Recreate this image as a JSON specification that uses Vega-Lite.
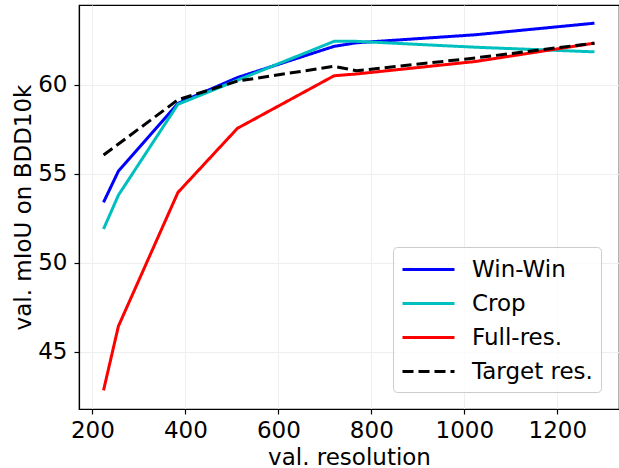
{
  "$schema": "https://vega.github.io/schema/vega-lite/v6.json",
  "autosize": {"type": "none"},
  "padding": {"left": 79, "top": 5, "right": 0, "bottom": 59},
  "width": 540,
  "height": 404,
  "background": "white",
  "config": {
    "font": "DejaVu Sans",
    "view": {"stroke": "#000000", "strokeWidth": 1.2},
    "axis": {
      "domainColor": "#000000",
      "domainWidth": 1.2,
      "tickColor": "#000000",
      "tickSize": 5,
      "tickWidth": 1.2,
      "labelColor": "#000000",
      "titleColor": "#000000",
      "labelFontSize": 23,
      "titleFontSize": 23,
      "titleFontWeight": "normal",
      "labelFont": "DejaVu Sans",
      "titleFont": "DejaVu Sans",
      "gridColor": "#eeeeee",
      "gridWidth": 1
    }
  },
  "data": {
    "values": [
      {"res": 224, "miou": 53.4, "series": "Win-Win"},
      {"res": 256, "miou": 55.15, "series": "Win-Win"},
      {"res": 384, "miou": 58.95, "series": "Win-Win"},
      {"res": 512, "miou": 60.4, "series": "Win-Win"},
      {"res": 720, "miou": 62.15, "series": "Win-Win"},
      {"res": 768, "miou": 62.35, "series": "Win-Win"},
      {"res": 1024, "miou": 62.8, "series": "Win-Win"},
      {"res": 1280, "miou": 63.45, "series": "Win-Win"},
      {"res": 224, "miou": 51.9, "series": "Crop"},
      {"res": 256, "miou": 53.8, "series": "Crop"},
      {"res": 384, "miou": 58.9, "series": "Crop"},
      {"res": 512, "miou": 60.25, "series": "Crop"},
      {"res": 720, "miou": 62.43, "series": "Crop"},
      {"res": 768, "miou": 62.43, "series": "Crop"},
      {"res": 1024, "miou": 62.1, "series": "Crop"},
      {"res": 1280, "miou": 61.84, "series": "Crop"},
      {"res": 224, "miou": 42.85, "series": "Full-res."},
      {"res": 256, "miou": 46.45, "series": "Full-res."},
      {"res": 384, "miou": 53.95, "series": "Full-res."},
      {"res": 512, "miou": 57.55, "series": "Full-res."},
      {"res": 720, "miou": 60.5, "series": "Full-res."},
      {"res": 768, "miou": 60.6, "series": "Full-res."},
      {"res": 1024, "miou": 61.3, "series": "Full-res."},
      {"res": 1280, "miou": 62.33, "series": "Full-res."},
      {"res": 224, "miou": 56.05, "series": "Target res."},
      {"res": 256, "miou": 56.67, "series": "Target res."},
      {"res": 384, "miou": 59.15, "series": "Target res."},
      {"res": 512, "miou": 60.2, "series": "Target res."},
      {"res": 720, "miou": 61.03, "series": "Target res."},
      {"res": 768, "miou": 60.78, "series": "Target res."},
      {"res": 1024, "miou": 61.5, "series": "Target res."},
      {"res": 1280, "miou": 62.33, "series": "Target res."}
    ]
  },
  "mark": {"type": "line", "strokeWidth": 3, "strokeJoin": "round"},
  "encoding": {
    "x": {
      "field": "res", "type": "quantitative",
      "scale": {"domain": [171.2, 1332.8], "nice": false, "zero": false},
      "axis": {"title": "val. resolution", "format": "d", "values": [200, 400, 600, 800, 1000, 1200], "labelPadding": 5, "titlePadding": 4, "labelFlush": false}
    },
    "y": {
      "field": "miou", "type": "quantitative",
      "scale": {"domain": [41.8, 64.47], "nice": false, "zero": false},
      "axis": {"title": "val. mIoU on BDD10k", "format": "d", "values": [45, 50, 55, 60], "labelPadding": 7, "titlePadding": 2, "labelFlush": false}
    },
    "color": {
      "field": "series", "type": "nominal",
      "scale": {"domain": ["Win-Win", "Crop", "Full-res.", "Target res."], "range": ["#0000ff", "#00bfbf", "#ff0000", "#000000"]},
      "legend": {
        "title": null,
        "orient": "none",
        "legendX": 314,
        "legendY": 242,
        "padding": 8,
        "fillColor": "rgba(255,255,255,0.8)",
        "strokeColor": "#cccccc",
        "cornerRadius": 4,
        "labelFontSize": 23,
        "labelFont": "DejaVu Sans",
        "labelColor": "#000000",
        "symbolType": "M-1,0H3",
        "symbolSize": 676,
        "symbolStrokeWidth": 3,
        "labelOffset": 42,
        "rowPadding": 7
      }
    },
    "strokeDash": {
      "field": "series", "type": "nominal",
      "scale": {"domain": ["Win-Win", "Crop", "Full-res.", "Target res."], "range": [[1, 0], [1, 0], [1, 0], [11, 5]]},
      "legend": {
        "title": null,
        "orient": "none",
        "legendX": 314,
        "legendY": 242,
        "padding": 8,
        "fillColor": "rgba(255,255,255,0.8)",
        "strokeColor": "#cccccc",
        "cornerRadius": 4,
        "labelFontSize": 23,
        "labelFont": "DejaVu Sans",
        "labelColor": "#000000",
        "symbolType": "M-1,0H3",
        "symbolSize": 676,
        "symbolStrokeWidth": 3,
        "labelOffset": 42,
        "rowPadding": 7
      }
    }
  }
}
